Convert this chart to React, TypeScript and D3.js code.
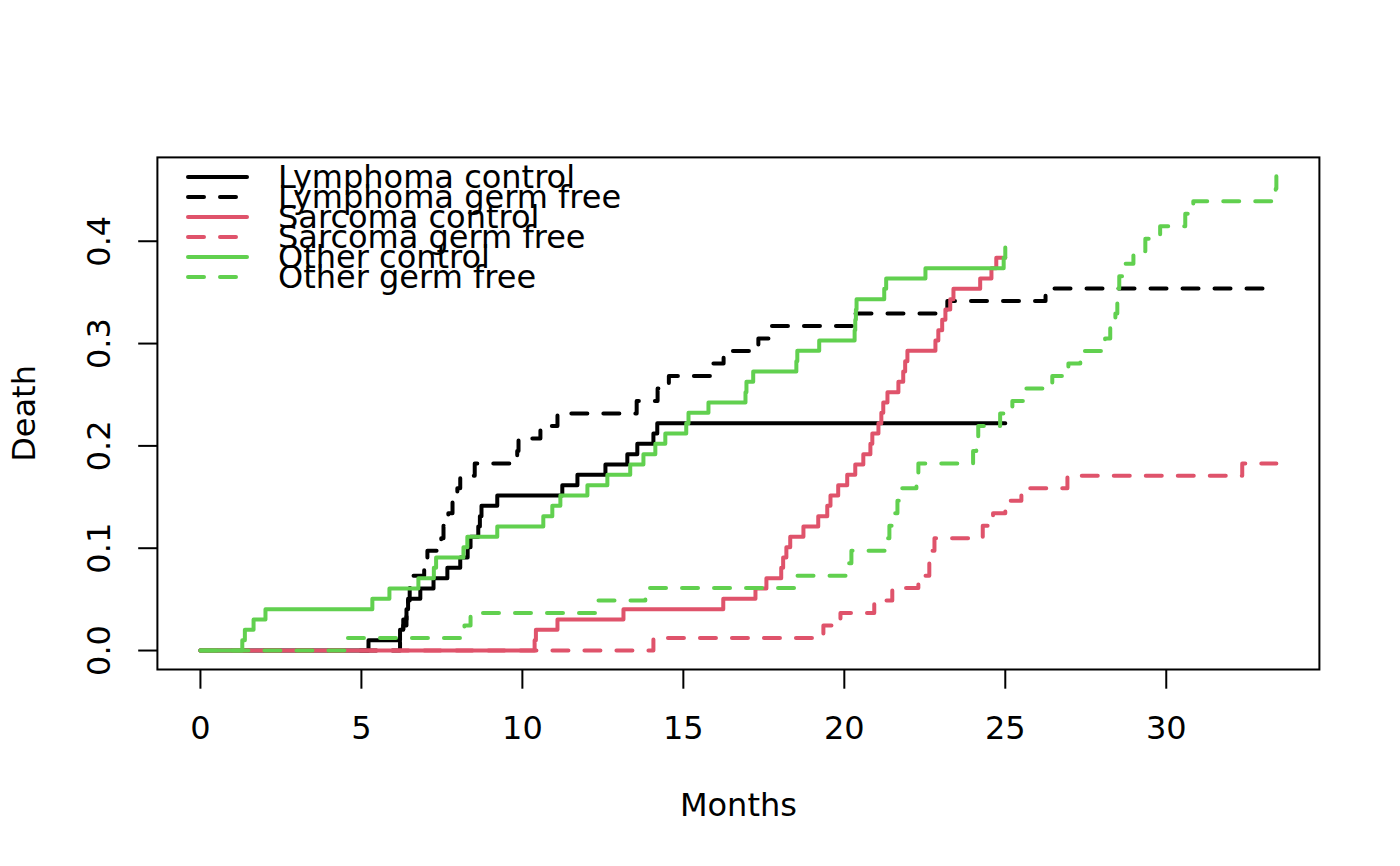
import { useEffect, useRef } from 'react';
import * as d3 from 'd3';

// step data (months, cumulative incidence)
const lymphCtrlT = [0, 5.22, 6.2, 6.3, 6.4, 6.45, 6.83, 7.24, 7.67, 8.07, 8.3, 8.39, 8.63, 8.68, 8.73, 9.22, 11.24, 11.71, 12.58, 13.26, 13.57, 14.07, 14.19, 25.0];
const lymphCtrlV = [0, 0.0101, 0.0202, 0.0303, 0.0404, 0.0505, 0.0606, 0.0707, 0.0808, 0.0909, 0.101, 0.1111, 0.1212, 0.1313, 0.1414, 0.1515, 0.1616, 0.1717, 0.1818, 0.1919, 0.202, 0.2121, 0.2222, 0.2222];

const lymphGfT = [0, 6.2, 6.3, 6.4, 6.45, 6.5, 6.6, 6.95, 7.05, 7.48, 7.55, 7.7, 7.83, 7.98, 8.07, 8.52, 9.84, 9.88, 10.56, 11.09, 13.55, 14.2, 14.55, 15.9, 16.25, 17.33, 17.7, 20.35, 23.2, 26.25, 33.42];
const lymphGfV = [0, 0.0122, 0.0244, 0.0366, 0.0488, 0.061, 0.0732, 0.0854, 0.0976, 0.1098, 0.122, 0.1341, 0.1463, 0.1585, 0.1707, 0.1829, 0.1951, 0.2073, 0.2195, 0.2317, 0.2439, 0.2561, 0.2683, 0.2805, 0.2927, 0.3049, 0.3171, 0.3293, 0.3415, 0.3537, 0.3537];

const sarcCtrlT = [0, 10.38, 10.42, 11.09, 13.14, 16.24, 17.24, 17.58, 18.04, 18.1, 18.2, 18.32, 18.73, 19.19, 19.47, 19.57, 19.81, 20.09, 20.34, 20.59, 20.81, 20.87, 21.06, 21.15, 21.21, 21.34, 21.68, 21.83, 21.89, 21.96, 22.83, 22.92, 23.04, 23.14, 23.29, 23.39, 24.22, 24.57, 24.72, 25.0];
const sarcCtrlV = [0, 0.0101, 0.0202, 0.0303, 0.0404, 0.0505, 0.0606, 0.0707, 0.0808, 0.0909, 0.101, 0.1111, 0.1212, 0.1313, 0.1414, 0.1515, 0.1616, 0.1717, 0.1818, 0.1919, 0.202, 0.2121, 0.2222, 0.2323, 0.2424, 0.2525, 0.2626, 0.2727, 0.2828, 0.2929, 0.303, 0.3131, 0.3232, 0.3333, 0.3434, 0.3535, 0.3636, 0.3737, 0.3838, 0.3838];

const sarcGfT = [0, 14.07, 19.35, 19.88, 20.93, 21.49, 22.3, 22.64, 22.73, 22.8, 24.3, 24.62, 25.0, 25.5, 26.93, 32.36, 33.42];
const sarcGfV = [0, 0.0122, 0.0244, 0.0366, 0.0488, 0.061, 0.0732, 0.0854, 0.0976, 0.1098, 0.122, 0.1341, 0.1463, 0.1585, 0.1707, 0.1829, 0.1829];

const otherCtrlT = [0, 1.3, 1.38, 1.65, 2.02, 5.34, 5.87, 6.77, 7.25, 7.32, 8.17, 8.29, 9.22, 10.65, 10.93, 11.18, 12.02, 12.64, 13.35, 13.76, 14.13, 14.44, 15.09, 15.16, 15.78, 16.93, 16.96, 17.17, 18.51, 18.54, 19.22, 20.32, 20.34, 20.36, 20.38, 21.24, 21.3, 22.52, 24.95, 25.0];
const otherCtrlV = [0, 0.0101, 0.0202, 0.0303, 0.0404, 0.0505, 0.0606, 0.0707, 0.0808, 0.0909, 0.101, 0.1111, 0.1212, 0.1313, 0.1414, 0.1515, 0.1616, 0.1717, 0.1818, 0.1919, 0.202, 0.2121, 0.2222, 0.2323, 0.2424, 0.2525, 0.2626, 0.2727, 0.2828, 0.2929, 0.303, 0.3131, 0.3232, 0.3333, 0.3434, 0.3535, 0.3636, 0.3737, 0.3838, 0.3939];

const otherGfT = [0, 4.53, 8.2, 8.39, 12.3, 13.82, 18.5, 20.15, 20.22, 21.33, 21.4, 21.55, 21.65, 21.71, 22.24, 22.3, 24.0, 24.1, 24.16, 24.84, 25.22, 25.6, 26.46, 26.96, 27.33, 28.1, 28.26, 28.42, 28.48, 28.51, 28.54, 28.73, 28.98, 29.35, 29.81, 30.59, 30.84, 33.4, 33.42];
const otherGfV = [0, 0.0122, 0.0244, 0.0366, 0.0488, 0.061, 0.0732, 0.0854, 0.0976, 0.1098, 0.122, 0.1341, 0.1463, 0.1585, 0.1707, 0.1829, 0.1951, 0.2073, 0.2195, 0.2317, 0.2439, 0.2561, 0.2683, 0.2805, 0.2927, 0.3049, 0.3171, 0.3293, 0.3415, 0.3537, 0.3659, 0.378, 0.3902, 0.4024, 0.4146, 0.4268, 0.439, 0.4512, 0.4634];

const seriesNames = ['Lymphoma control', 'Lymphoma germ free', 'Sarcoma control', 'Sarcoma germ free', 'Other control', 'Other germ free'];
const xTicks = [0, 5, 10, 15, 20, 25, 30];
const yTicks = [0, 0.1, 0.2, 0.3, 0.4];

export default function App() {
  const svgRef = useRef<SVGSVGElement | null>(null);

  useEffect(() => {
    if (!svgRef.current) return;
    const svg = d3.select(svgRef.current);
    svg.selectAll('*').remove();

    const font = 'DejaVu Sans';
    const left = 157.4, right = 1319.4, top = 157.4, bottom = 669.5;
    const lw = 4;

    const colors = ['#000000', '#000000', '#DF536B', '#DF536B', '#61D04F', '#61D04F'];
    const dashed = [false, true, false, true, false, true];
    const times = [lymphCtrlT, lymphGfT, sarcCtrlT, sarcGfT, otherCtrlT, otherGfT];
    const vals = [lymphCtrlV, lymphGfV, sarcCtrlV, sarcGfV, otherCtrlV, otherGfV];

    const series = times.map((t, i) => t.map((d, j) => ({ t: d, v: vals[i][j] })));

    const tMax = d3.max(times, (t) => d3.max(t)) as number;
    const vMax = d3.max(vals, (v) => d3.max(v)) as number;

    // R style 4% axis padding
    const x = d3.scaleLinear().domain([-0.04 * tMax, 1.04 * tMax]).range([left, right]);
    const y = d3.scaleLinear().domain([-0.04 * vMax, 1.04 * vMax]).range([bottom, top]);

    const line = d3
      .line<{ t: number; v: number }>()
      .x((d) => x(d.t))
      .y((d) => y(d.v))
      .curve(d3.curveStepAfter);

    // curves
    series.forEach((s, i) => {
      svg
        .append('path')
        .datum(s)
        .attr('fill', 'none')
        .attr('stroke', colors[i])
        .attr('stroke-width', lw)
        .attr('stroke-linecap', 'round')
        .attr('stroke-linejoin', 'round')
        .attr('stroke-dasharray', dashed[i] ? '16,16' : null)
        .attr('d', line);
    });

    // box
    svg
      .append('rect')
      .attr('x', left)
      .attr('y', top)
      .attr('width', right - left)
      .attr('height', bottom - top)
      .attr('fill', 'none')
      .attr('stroke', '#000')
      .attr('stroke-width', 2);

    // x axis
    const xa = svg.append('g');
    xTicks.forEach((t) => {
      xa.append('line')
        .attr('x1', x(t)).attr('x2', x(t))
        .attr('y1', bottom).attr('y2', bottom + 19.2)
        .attr('stroke', '#000').attr('stroke-width', 2);
      xa.append('text')
        .attr('x', x(t)).attr('y', 739)
        .attr('text-anchor', 'middle')
        .style('font-family', font).style('font-size', '32px')
        .text(String(t));
    });

    // y axis
    const ya = svg.append('g');
    yTicks.forEach((t) => {
      ya.append('line')
        .attr('x1', left).attr('x2', left - 19.2)
        .attr('y1', y(t)).attr('y2', y(t))
        .attr('stroke', '#000').attr('stroke-width', 2);
      ya.append('text')
        .attr('transform', `translate(110,${y(t)}) rotate(-90)`)
        .attr('text-anchor', 'middle')
        .style('font-family', font).style('font-size', '32px')
        .text(d3.format('.1f')(t));
    });

    // axis titles
    svg.append('text')
      .attr('x', (left + right) / 2).attr('y', 816)
      .attr('text-anchor', 'middle')
      .style('font-family', font).style('font-size', '32px')
      .text('Months');
    svg.append('text')
      .attr('transform', `translate(35,${(top + bottom) / 2}) rotate(-90)`)
      .attr('text-anchor', 'middle')
      .style('font-family', font).style('font-size', '32px')
      .text('Death');

    // legend (rows overlap as in the original)
    const lg = svg.append('g');
    seriesNames.forEach((name, i) => {
      const ly = 177 + i * 20;
      lg.append('line')
        .attr('x1', 188).attr('x2', 247)
        .attr('y1', ly).attr('y2', ly)
        .attr('stroke', colors[i])
        .attr('stroke-width', lw)
        .attr('stroke-linecap', 'round')
        .attr('stroke-dasharray', dashed[i] ? '16,16' : null);
      lg.append('text')
        .attr('x', 278).attr('y', ly + 11)
        .style('font-family', font).style('font-size', '32px')
        .text(name);
    });
  }, []);

  return (
    <svg
      ref={svgRef}
      width={1400}
      height={866}
      style={{ position: 'absolute', left: 0, top: 0, background: '#fff' }}
    />
  );
}
